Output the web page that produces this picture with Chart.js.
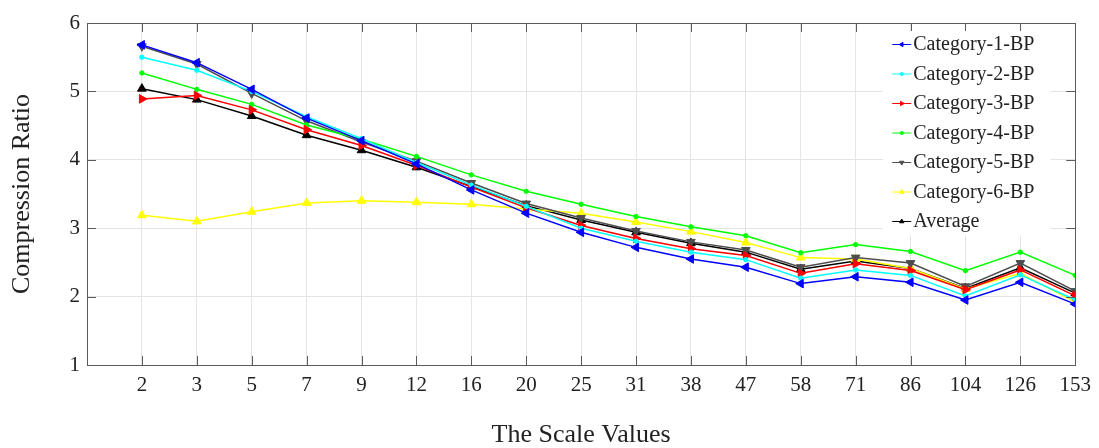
<!DOCTYPE html>
<html>
<head>
<meta charset="utf-8">
<script src="https://cdn.jsdelivr.net/npm/chart.js@4/dist/chart.umd.min.js"></script>
<style>
  body { margin: 0; background: #fff; }
  #wrap { width: 1099px; height: 448px; position: relative; }
</style>
</head>
<body>
<div id="wrap"><canvas id="graph" width="1099" height="448"></canvas></div>
<script>
"use strict";
const SCALE_LABELS = ["2", "3", "5", "7", "9", "12", "16", "20", "25", "31", "38", "47", "58", "71", "86", "104", "126", "153"];
const Y_TICKS = [1, 2, 3, 4, 5, 6];

const CAT1 = [5.68, 5.42, 5.03, 4.61, 4.28, 3.94, 3.56, 3.22, 2.94, 2.72, 2.55, 2.43, 2.19, 2.29, 2.21, 1.95, 2.21, 1.89];
const CAT2 = [5.50, 5.31, 5.00, 4.63, 4.31, 3.96, 3.63, 3.32, 3.00, 2.81, 2.65, 2.54, 2.27, 2.39, 2.31, 2.01, 2.32, 1.95];
const CAT3 = [4.89, 4.94, 4.73, 4.44, 4.21, 3.92, 3.60, 3.30, 3.04, 2.85, 2.70, 2.60, 2.34, 2.48, 2.38, 2.10, 2.39, 2.01];
const CAT4 = [5.27, 5.03, 4.81, 4.51, 4.30, 4.05, 3.78, 3.54, 3.35, 3.17, 3.02, 2.89, 2.64, 2.76, 2.66, 2.38, 2.65, 2.31];
const CAT5 = [5.66, 5.40, 4.97, 4.57, 4.26, 3.98, 3.66, 3.36, 3.15, 2.96, 2.80, 2.68, 2.43, 2.57, 2.49, 2.15, 2.49, 2.08];
const CAT6 = [3.19, 3.10, 3.24, 3.37, 3.40, 3.38, 3.35, 3.28, 3.22, 3.09, 2.95, 2.79, 2.57, 2.55, 2.41, 2.11, 2.34, 1.92];
const AVERAGE = [5.04, 4.88, 4.64, 4.36, 4.14, 3.89, 3.61, 3.33, 3.12, 2.94, 2.78, 2.65, 2.40, 2.52, 2.41, 2.12, 2.42, 2.05];

const FONT = "'Liberation Serif', 'DejaVu Serif', serif";
const TEXT_COLOR = "#222";
const AXIS_COLOR = "#5a5a5a";

function series(label, values, color, style, rotation, radius) {
    return {
        label: label,
        data: values.map(function (v, i) {
            return { x: i, y: v };
        }),
        borderColor: color,
        backgroundColor: color,
        borderWidth: 1.5,
        pointStyle: style,
        rotation: rotation,
        pointRadius: radius,
        pointBorderWidth: 1,
        pointHoverRadius: radius,
        tension: 0,
    };
}

// box with inward tick marks on all four sides, drawn from the scales
const boxTicks = {
    id: "boxTicks",
    afterDatasetsDraw(chart) {
        const ctx = chart.ctx;
        const a = chart.chartArea;
        const xs = chart.scales.x;
        const ys = chart.scales.y;
        const len = 9;
        ctx.save();
        ctx.strokeStyle = AXIS_COLOR;
        ctx.lineWidth = 1;
        ctx.beginPath();
        SCALE_LABELS.forEach(function (lbl, i) {
            const px = Math.round(xs.getPixelForValue(i)) + 0.5;
            ctx.moveTo(px, a.bottom);
            ctx.lineTo(px, a.bottom - len);
            ctx.moveTo(px, a.top);
            ctx.lineTo(px, a.top + len);
        });
        Y_TICKS.forEach(function (v) {
            const py = Math.round(ys.getPixelForValue(v)) + 0.5;
            ctx.moveTo(a.left, py);
            ctx.lineTo(a.left + len, py);
            ctx.moveTo(a.right, py);
            ctx.lineTo(a.right - len, py);
        });
        ctx.stroke();
        ctx.strokeRect(Math.round(a.left) + 0.5, Math.round(a.top) + 0.5,
            Math.round(a.right - a.left), Math.round(a.bottom - a.top));
        ctx.restore();
    },
};

// legend inside the plot, top right
const innerLegend = {
    id: "innerLegend",
    afterDraw(chart) {
        const ctx = chart.ctx;
        const a = chart.chartArea;
        const boxLeft = a.right - 192;
        const boxTop = a.top + 8;
        const rowH = 29.5;
        const sets = chart.data.datasets;
        ctx.save();
        ctx.fillStyle = "#fff";
        ctx.fillRect(boxLeft, boxTop, 167, rowH * sets.length - 2);
        ctx.font = "20px " + FONT;
        ctx.textBaseline = "middle";
        ctx.textAlign = "left";
        sets.forEach(function (ds, i) {
            const y = boxTop + 13 + i * rowH;
            const x0 = boxLeft + 9;
            ctx.strokeStyle = ds.borderColor;
            ctx.lineWidth = 1;
            ctx.beginPath();
            ctx.moveTo(x0, y + 0.5);
            ctx.lineTo(x0 + 19, y + 0.5);
            ctx.stroke();
            ctx.fillStyle = ds.backgroundColor;
            Chart.helpers.drawPoint(ctx, {
                pointStyle: ds.pointStyle,
                rotation: ds.rotation,
                radius: ds.pointStyle === "circle" ? 1.5 : 2.5,
                borderWidth: 1,
            }, x0 + 9.5, y + 0.5);
            ctx.fillStyle = TEXT_COLOR;
            ctx.fillText(ds.label, x0 + 21, y + 1);
        });
        ctx.restore();
    },
};

function drawGraph() {
    const data = {
        datasets: [
            series("Category-1-BP", CAT1, "#0000ff", "triangle", -90, 5),
            series("Category-2-BP", CAT2, "#00ffff", "circle", 0, 2.2),
            series("Category-3-BP", CAT3, "#ff0000", "triangle", 90, 5),
            series("Category-4-BP", CAT4, "#00ff00", "circle", 0, 2.2),
            series("Category-5-BP", CAT5, "#4d4d4d", "triangle", 180, 5),
            series("Category-6-BP", CAT6, "#ffff00", "triangle", 0, 5),
            series("Average", AVERAGE, "#000000", "triangle", 0, 5),
        ],
    };
    const config = {
        type: "line",
        data,
        options: {
            animation: false,
            responsive: false,
            events: [],
            layout: {
                padding: { left: 0, right: 22, top: 23, bottom: 0 },
            },
            plugins: {
                legend: { display: false },
                tooltip: { enabled: false },
            },
            scales: {
                x: {
                    type: "linear",
                    min: -1,
                    max: SCALE_LABELS.length - 1,
                    afterBuildTicks: function (scale) {
                        scale.ticks = SCALE_LABELS.map(function (l, i) {
                            return { value: i };
                        });
                    },
                    afterFit: function (scale) {
                        scale.height = 83;
                    },
                    ticks: {
                        autoSkip: false,
                        maxRotation: 0,
                        padding: 8,
                        color: TEXT_COLOR,
                        font: { family: FONT, size: 21 },
                        callback: function (value) {
                            return SCALE_LABELS[value];
                        },
                    },
                    grid: { color: "#e4e4e4", drawTicks: false },
                    border: { color: AXIS_COLOR },
                    title: {
                        display: true,
                        text: "The Scale Values",
                        color: TEXT_COLOR,
                        font: { family: FONT, size: 26, lineHeight: 1 },
                        padding: { top: 0, bottom: 0 },
                    },
                },
                y: {
                    min: 1,
                    max: 6,
                    afterBuildTicks: function (scale) {
                        scale.ticks = Y_TICKS.map(function (v) {
                            return { value: v };
                        });
                    },
                    afterFit: function (scale) {
                        scale.width = 87;
                    },
                    ticks: {
                        padding: 7,
                        color: TEXT_COLOR,
                        font: { family: FONT, size: 21 },
                    },
                    grid: { color: "#e4e4e4", drawTicks: false },
                    border: { color: AXIS_COLOR },
                    title: {
                        display: true,
                        text: "Compression Ratio",
                        color: TEXT_COLOR,
                        font: { family: FONT, size: 26, lineHeight: 1 },
                        padding: { top: 9, bottom: 0 },
                    },
                },
            },
        },
        plugins: [boxTicks, innerLegend],
    };
    new Chart(document.getElementById("graph"), config);
}

drawGraph();
</script>
</body>
</html>
